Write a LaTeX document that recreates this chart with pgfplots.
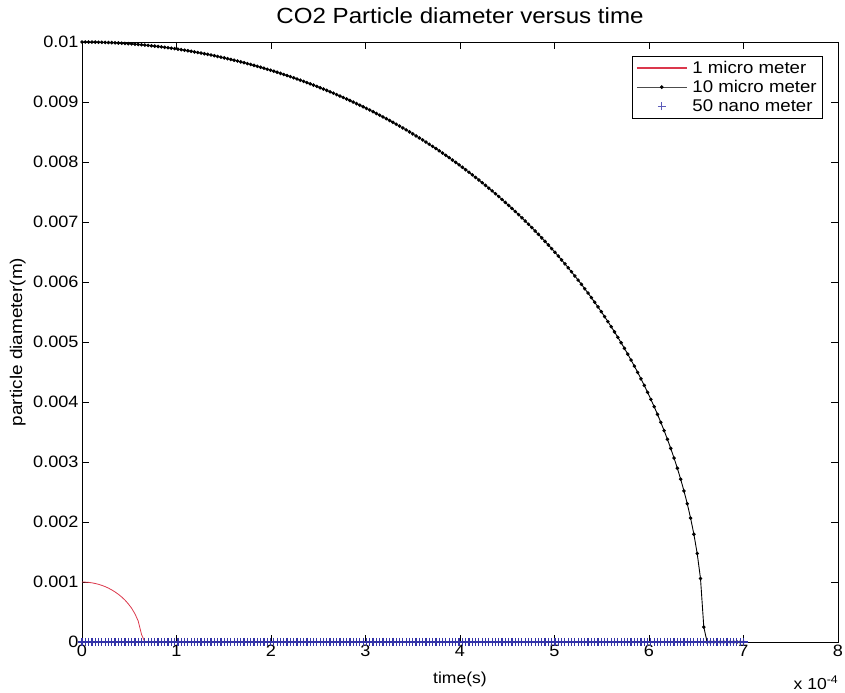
\documentclass[border=0pt]{standalone}
\usepackage{pgfplots}
\usepackage{pgfplotstable}
\pgfplotsset{compat=1.18}
\usepackage{fontspec}
\setmainfont{Liberation Sans}[FakeStretch=1.1]
\newfontfamily\ylabfont{Liberation Sans}[FakeStretch=1.12]
\definecolor{mred}{rgb}{0.86,0.22,0.30}
\definecolor{mblue}{rgb}{0.2,0.2,0.66}

\pgfplotstableread{
t d
0 0.001000
0.035 0.000998
0.07 0.000994
0.105 0.000986
0.14 0.000975
0.175 0.000961
0.21 0.000944
0.245 0.000923
0.28 0.000898
0.315 0.000868
0.35 0.000834
0.385 0.000795
0.42 0.000750
0.455 0.000698
0.49 0.000636
0.525 0.000563
0.56 0.000471
0.595 0.000349
0.63 0.000125
0.665 0
}\redtab

\pgfplotstableread{
t d
0 0.010000
0.035 0.010000
0.07 0.009999
0.105 0.009999
0.14 0.009998
0.175 0.009996
0.21 0.009995
0.245 0.009993
0.28 0.009991
0.315 0.009989
0.35 0.009986
0.385 0.009983
0.42 0.009980
0.455 0.009976
0.49 0.009972
0.525 0.009968
0.56 0.009964
0.595 0.009959
0.63 0.009954
0.665 0.009949
0.7 0.009943
0.735 0.009937
0.77 0.009931
0.805 0.009925
0.84 0.009918
0.875 0.009911
0.91 0.009904
0.945 0.009896
0.98 0.009889
1.015 0.009880
1.05 0.009872
1.085 0.009863
1.12 0.009854
1.155 0.009845
1.19 0.009835
1.225 0.009825
1.26 0.009815
1.295 0.009805
1.33 0.009794
1.365 0.009783
1.4 0.009771
1.435 0.009759
1.47 0.009747
1.505 0.009735
1.54 0.009722
1.575 0.009709
1.61 0.009696
1.645 0.009683
1.68 0.009669
1.715 0.009655
1.75 0.009640
1.785 0.009625
1.82 0.009610
1.855 0.009595
1.89 0.009579
1.925 0.009563
1.96 0.009546
1.995 0.009530
2.03 0.009513
2.065 0.009495
2.1 0.009477
2.135 0.009459
2.17 0.009441
2.205 0.009422
2.24 0.009403
2.275 0.009384
2.31 0.009364
2.345 0.009344
2.38 0.009323
2.415 0.009303
2.45 0.009281
2.485 0.009260
2.52 0.009238
2.555 0.009216
2.59 0.009193
2.625 0.009170
2.66 0.009147
2.695 0.009123
2.73 0.009099
2.765 0.009075
2.8 0.009050
2.835 0.009025
2.87 0.008999
2.905 0.008973
2.94 0.008947
2.975 0.008920
3.01 0.008893
3.045 0.008866
3.08 0.008838
3.115 0.008809
3.15 0.008780
3.185 0.008751
3.22 0.008722
3.255 0.008692
3.29 0.008661
3.325 0.008630
3.36 0.008599
3.395 0.008567
3.43 0.008535
3.465 0.008502
3.5 0.008469
3.535 0.008435
3.57 0.008401
3.605 0.008367
3.64 0.008332
3.675 0.008296
3.71 0.008260
3.745 0.008224
3.78 0.008187
3.815 0.008149
3.85 0.008111
3.885 0.008072
3.92 0.008033
3.955 0.007993
3.99 0.007953
4.025 0.007912
4.06 0.007871
4.095 0.007829
4.13 0.007786
4.165 0.007743
4.2 0.007700
4.235 0.007655
4.27 0.007610
4.305 0.007564
4.34 0.007518
4.375 0.007471
4.41 0.007424
4.445 0.007375
4.48 0.007326
4.515 0.007276
4.55 0.007226
4.585 0.007175
4.62 0.007123
4.655 0.007070
4.69 0.007016
4.725 0.006962
4.76 0.006907
4.795 0.006850
4.83 0.006794
4.865 0.006736
4.9 0.006677
4.935 0.006617
4.97 0.006556
5.005 0.006495
5.04 0.006432
5.075 0.006368
5.11 0.006303
5.145 0.006237
5.18 0.006170
5.215 0.006101
5.25 0.006032
5.285 0.005961
5.32 0.005888
5.355 0.005815
5.39 0.005739
5.425 0.005663
5.46 0.005585
5.495 0.005505
5.53 0.005423
5.565 0.005340
5.6 0.005255
5.635 0.005168
5.67 0.005079
5.705 0.004987
5.74 0.004894
5.775 0.004798
5.81 0.004699
5.845 0.004598
5.88 0.004494
5.915 0.004386
5.95 0.004276
5.985 0.004162
6.02 0.004043
6.055 0.003921
6.09 0.003794
6.125 0.003661
6.16 0.003523
6.195 0.003378
6.23 0.003227
6.265 0.003066
6.3 0.002896
6.335 0.002714
6.37 0.002518
6.405 0.002304
6.44 0.002066
6.475 0.001796
6.51 0.001475
6.545 0.001059
6.58 0.000248
6.615 0
6.65 0
6.685 0
6.72 0
6.755 0
6.79 0
6.825 0
6.86 0
6.895 0
6.93 0
6.965 0
7.0 0
}\blacktab

\begin{document}
\begin{tikzpicture}
\useasboundingbox (-82bp,-51bp) rectangle (763bp,642bp);
\begin{axis}[
  name=ax,
  at={(0,0)}, anchor=origin,
  scale only axis, width=756bp, height=600bp,
  xmin=0, xmax=8, ymin=0, ymax=0.01,
  xtick={0,1,2,3,4,5,6,7,8},
  xticklabels={0,1,2,3,4,5,6,7,8},
  ytick={0,0.001,0.002,0.003,0.004,0.005,0.006,0.007,0.008,0.009,0.01},
  yticklabels={0,0.001,0.002,0.003,0.004,0.005,0.006,0.007,0.008,0.009,0.01},
  scaled y ticks=false, scaled x ticks=false,
  tick align=inside, major tick length=7bp,
  tick style={black, line width=0.5bp},
  axis line style={black, line width=0.6bp},
  tick label style={font=\fontsize{16.5}{18}\selectfont},
  xlabel={time(s)},
  xlabel style={at={(axis description cs:0.5,-0.062)}, anchor=center, font=\fontsize{16}{18}\selectfont},
  ylabel={particle diameter(m)},
  ylabel style={at={(axis description cs:-0.085,0.5)}, anchor=center, font=\ylabfont\fontsize{17}{18}\selectfont},
  title={CO2 Particle diameter versus time},
  title style={at={(axis description cs:0.5,1)}, anchor=center, yshift=20bp, font=\fontsize{22}{24}\selectfont},
  legend cell align=left,
  legend style={at={(0.980,0.977)}, anchor=north east, fill=white,
    font=\fontsize{17}{18}\selectfont, inner xsep=4bp, inner ysep=3bp, row sep=1.5bp,
    /tikz/every odd column/.append style={column sep=3bp}},
]
\addplot[draw=mred, line width=0.8bp,
  legend image code/.code={\draw[draw=mred, line width=1.4bp] (0bp,0bp) -- (50bp,0bp);}]
  table[x=t,y=d] {\redtab};
\addlegendentry{1 micro meter}
\addplot[draw=black, line width=0.9bp, mark=*, mark size=1.3bp, mark options={fill=black, draw=black},
  legend image code/.code={\draw[draw=black!70, line width=0.8bp] (0bp,0bp) -- (50bp,0bp);
    \fill[black] (25bp,0bp) circle (1.4bp);}]
  table[x=t,y=d] {\blacktab};
\addlegendentry{10 micro meter}
\addplot[draw=mblue, only marks, mark=+, mark size=4.2bp, line width=1.2bp, mark options={draw=mblue},
  legend image code/.code={\draw[draw=mblue!80, line width=0.8bp] (21bp,0bp) -- (29bp,0bp) (25bp,-4bp) -- (25bp,4bp);}]
  coordinates {
(0,0) (0.035,0) (0.07,0) (0.105,0) (0.14,0) (0.175,0) (0.21,0) (0.245,0) (0.28,0) (0.315,0)
(0.35,0) (0.385,0) (0.42,0) (0.455,0) (0.49,0) (0.525,0) (0.56,0) (0.595,0) (0.63,0) (0.665,0)
(0.7,0) (0.735,0) (0.77,0) (0.805,0) (0.84,0) (0.875,0) (0.91,0) (0.945,0) (0.98,0) (1.015,0)
(1.05,0) (1.085,0) (1.12,0) (1.155,0) (1.19,0) (1.225,0) (1.26,0) (1.295,0) (1.33,0) (1.365,0)
(1.4,0) (1.435,0) (1.47,0) (1.505,0) (1.54,0) (1.575,0) (1.61,0) (1.645,0) (1.68,0) (1.715,0)
(1.75,0) (1.785,0) (1.82,0) (1.855,0) (1.89,0) (1.925,0) (1.96,0) (1.995,0) (2.03,0) (2.065,0)
(2.1,0) (2.135,0) (2.17,0) (2.205,0) (2.24,0) (2.275,0) (2.31,0) (2.345,0) (2.38,0) (2.415,0)
(2.45,0) (2.485,0) (2.52,0) (2.555,0) (2.59,0) (2.625,0) (2.66,0) (2.695,0) (2.73,0) (2.765,0)
(2.8,0) (2.835,0) (2.87,0) (2.905,0) (2.94,0) (2.975,0) (3.01,0) (3.045,0) (3.08,0) (3.115,0)
(3.15,0) (3.185,0) (3.22,0) (3.255,0) (3.29,0) (3.325,0) (3.36,0) (3.395,0) (3.43,0) (3.465,0)
(3.5,0) (3.535,0) (3.57,0) (3.605,0) (3.64,0) (3.675,0) (3.71,0) (3.745,0) (3.78,0) (3.815,0)
(3.85,0) (3.885,0) (3.92,0) (3.955,0) (3.99,0) (4.025,0) (4.06,0) (4.095,0) (4.13,0) (4.165,0)
(4.2,0) (4.235,0) (4.27,0) (4.305,0) (4.34,0) (4.375,0) (4.41,0) (4.445,0) (4.48,0) (4.515,0)
(4.55,0) (4.585,0) (4.62,0) (4.655,0) (4.69,0) (4.725,0) (4.76,0) (4.795,0) (4.83,0) (4.865,0)
(4.9,0) (4.935,0) (4.97,0) (5.005,0) (5.04,0) (5.075,0) (5.11,0) (5.145,0) (5.18,0) (5.215,0)
(5.25,0) (5.285,0) (5.32,0) (5.355,0) (5.39,0) (5.425,0) (5.46,0) (5.495,0) (5.53,0) (5.565,0)
(5.6,0) (5.635,0) (5.67,0) (5.705,0) (5.74,0) (5.775,0) (5.81,0) (5.845,0) (5.88,0) (5.915,0)
(5.95,0) (5.985,0) (6.02,0) (6.055,0) (6.09,0) (6.125,0) (6.16,0) (6.195,0) (6.23,0) (6.265,0)
(6.3,0) (6.335,0) (6.37,0) (6.405,0) (6.44,0) (6.475,0) (6.51,0) (6.545,0) (6.58,0) (6.615,0)
(6.65,0) (6.685,0) (6.72,0) (6.755,0) (6.79,0) (6.825,0) (6.86,0) (6.895,0) (6.93,0) (6.965,0)
(7.0,0)
};
\addlegendentry{50 nano meter}
\end{axis}
\node[font=\fontsize{16}{18}\selectfont] at ([xshift=-22bp,yshift=-41bp]ax.south east) {x 10\textsuperscript{-4}};
\end{tikzpicture}
\end{document}
